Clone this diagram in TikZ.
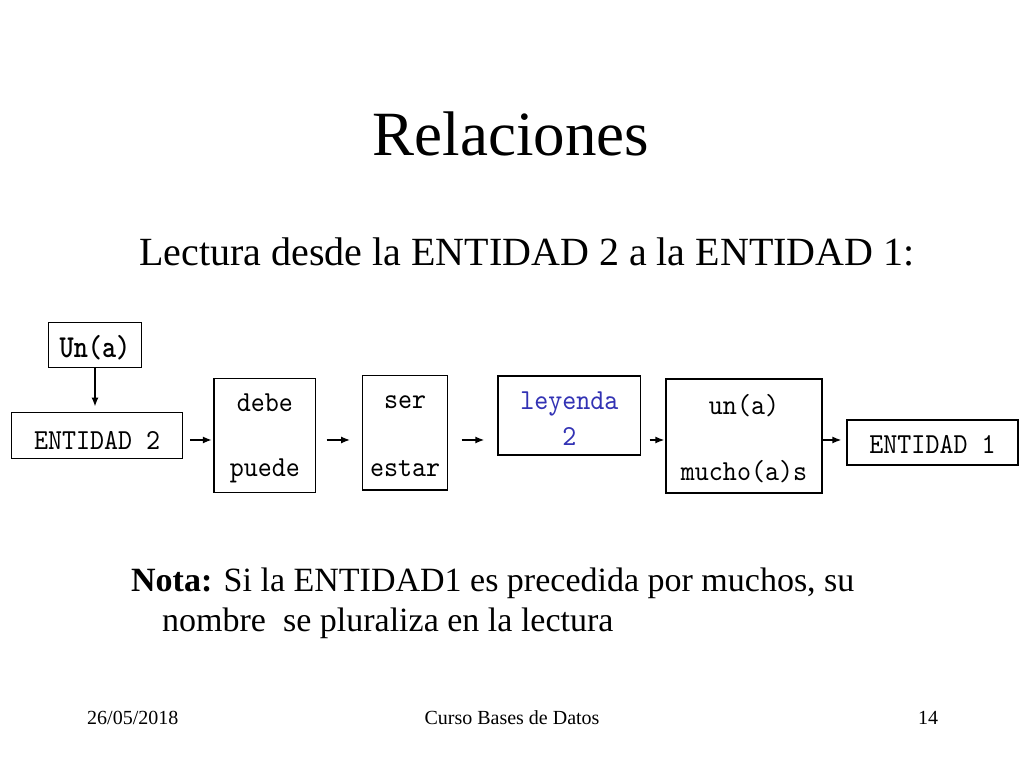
\documentclass[tikz,border=0pt]{standalone}
\usepackage{fontspec}
\setmainfont{Liberation Serif}
\newfontfamily\cajafont[Extension=.otf, UprightFont=lmmono10-regular,
    BoldFont=lmmonolt10-bold, FakeStretch=0.92]{lmmono10}
\newfontfamily\cajanegra[Extension=.otf, UprightFont=lmmonolt10-bold,
    FakeStretch=0.84]{lmmonolt10}
\usepackage{xcolor}
\usetikzlibrary{arrows.meta,positioning}
\definecolor{azulley}{RGB}{50,50,180}
% two centred lines, baseline of the box = baseline of the first line
\newcommand{\doslineas}[3]{\vtop{\baselineskip=#1\lineskiplimit=-200bp%
    \halign{\hfil##\hfil\cr#2\cr#3\cr}}}
\tikzset{
    >={Latex[length=9bp,width=7bp]},
    caja/.style={
        rectangle,
        draw=black, line width=1.3bp,
        inner sep=0pt,
        anchor=base,
        font={\cajafont\fontsize{29bp}{35bp}\selectfont}
    },
    flecha/.style={draw, line width=1.4bp, ->},
    titulo/.style={inner sep=0pt, font={\fontsize{63bp}{70bp}\selectfont}},
    subtitulo/.style={inner sep=0pt, font={\fontsize{40bp}{46bp}\selectfont}},
    nota/.style={inner sep=0pt, font={\fontsize{34bp}{40bp}\selectfont}},
    pie/.style={inner sep=0pt, font={\fontsize{20bp}{24bp}\selectfont}},
}
\begin{document}
\begin{tikzpicture}[x=1bp, y=1bp]
        \fill[white] (0,0) rectangle (1024,768);
        \useasboundingbox (0,0) rectangle (1024,768);

        \node[titulo, anchor=base]          (titulo)  at (511,612) {Relaciones};
        \node[subtitulo, anchor=base west]  (lectura) at (139,502) {Lectura desde la ENTIDAD 2 a la ENTIDAD 1:};

        % Boxes of the reading
        \node[caja, font={\cajanegra\fontsize{32bp}{36bp}\selectfont},
              minimum width=93.4bp, text height=35.3bp, text depth=9.3bp]  (una)   at (95,410)    {Un(a)};
        \node[caja, minimum width=171bp, text height=36.6bp, text depth=9bp]  (ent2)  at (97.2,318.7) {ENTIDAD 2};
        \node[caja, minimum width=101.7bp, text height=33.7bp, text depth=80.7bp] (debe) at (264.8,356) {\doslineas{65bp}{debe}{puede}};
        \node[caja, minimum width=85bp, text height=33.3bp, text depth=81bp]  (ser)   at (405.2,359)  {\doslineas{68bp}{ser}{estar}};
        \node[caja, text=azulley, minimum width=142.7bp, text height=34bp, text depth=45bp] (ley) at (569.3,358) {\doslineas{36bp}{leyenda}{2}};
        \node[caja, minimum width=156bp, text height=36bp, text depth=78bp]   (mucho) at (744,353)    {\doslineas{66bp}{un(a)}{mucho(a)s}};
        \node[caja, minimum width=171bp, text height=33.3bp, text depth=11.7bp] (ent1) at (932.5,314.7) {ENTIDAD 1};

        % Arrows stand free between the boxes
        \coordinate (fila) at (0,328);
        \draw[flecha, shorten >=5.5bp] (una.south) -- (una.south |- ent2.north);
        \draw[flecha, shorten <=7bp, shorten >=1.5bp]   (ent2.east |- fila)  -- (debe.west |- fila);
        \draw[flecha, shorten <=10.3bp, shorten >=12bp] (debe.east |- fila)  -- (ser.west |- fila);
        \draw[flecha, shorten <=13.3bp, shorten >=13bp] (ser.east |- fila)   -- (ley.west |- fila);
        \draw[flecha, shorten <=8.3bp, shorten >=1bp]   (ley.east |- fila)   -- (mucho.west |- fila);
        \draw[flecha, shorten >=5bp]                    (mucho.east |- fila) -- (ent1.west |- fila);

        \node[nota, anchor=base west] (nota)  at (131,176) {\textbf{Nota:} Si la ENTIDAD1 es precedida por muchos, su};
        \node[nota, anchor=base west] (nota2) at (162,136) {nombre\ \ se pluraliza en la lectura};

        % Footer
        \node[pie, anchor=base west] (fecha)  at (87,43)  {26/05/2018};
        \node[pie, anchor=base]      (curso)  at (512,43) {Curso Bases de Datos};
        \node[pie, anchor=base]      (pagina) at (928,43) {14};
\end{tikzpicture}
\end{document}
